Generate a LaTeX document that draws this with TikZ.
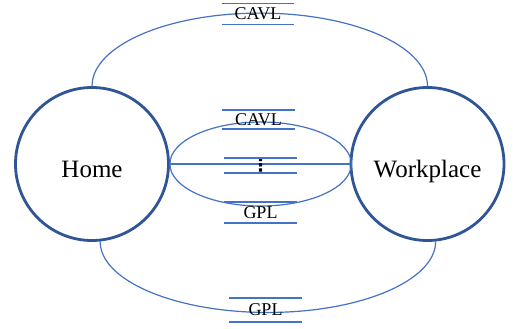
\documentclass[tikz,border=0pt]{standalone}
\usepackage{fontspec}
\setmainfont{Liberation Serif}
\newfontfamily\symfont{DejaVu Sans}
\usepackage{tikz}

\definecolor{ringblue}{HTML}{2F5597}
\definecolor{lineblue}{HTML}{4472C4}

\begin{document}
\begin{tikzpicture}[
  x=1pt, y=1pt,
  place/.style={circle, draw=ringblue, line width=2.8pt, minimum size=153pt,
    inner sep=0pt, text height=27pt, text depth=0pt,
    font=\fontsize{25}{30}\selectfont},
  route/.style={draw=lineblue, line width=1.2pt},
  store/.style={minimum width=72pt, minimum height=21pt, inner sep=0pt,
    font=\fontsize{18}{21}\selectfont},
  bar/.style={draw=lineblue, line width=1.5pt},
]
  \useasboundingbox (0,0) rectangle (514,-329);

  \node[place] (home) at (92,-164)    {Home};
  \node[place] (work) at (427.5,-164) {Workplace};

  % routes between the two places
  \draw[route] (home.north) arc[start angle=180, end angle=0,
    x radius=167.75, y radius=73];
  \draw[route] (home.-84) arc[start angle=180, end angle=360,
    x radius=167.75, y radius=71];
  \draw[route] (home.east) arc[start angle=180, end angle=0,
    x radius=90.75, y radius=42];
  \draw[route] (home.east) arc[start angle=180, end angle=360,
    x radius=90.75, y radius=42];
  \draw[route] (home.east) -- (work.west);

  % labels
  \node[store] (cavltop) at (258,-14)   {CAVL};
  \node[store, minimum height=19pt] (cavlmid) at (258.5,-119.5) {CAVL};
  \node[store, minimum height=15pt] (dots) at (260.5,-165.5)
    {\symfont\fontsize{18}{18}\selectfont\bfseries ⋮};
  \node[store] (gplmid) at (260.5,-212.5) {GPL};
  \node[store, minimum height=24pt] (gplbot) at (265.5,-310) {GPL};

  \foreach \n in {cavltop, cavlmid, dots, gplmid, gplbot}
    \draw[bar] (\n.north west) -- (\n.north east)
               (\n.south west) -- (\n.south east);
\end{tikzpicture}
\end{document}
